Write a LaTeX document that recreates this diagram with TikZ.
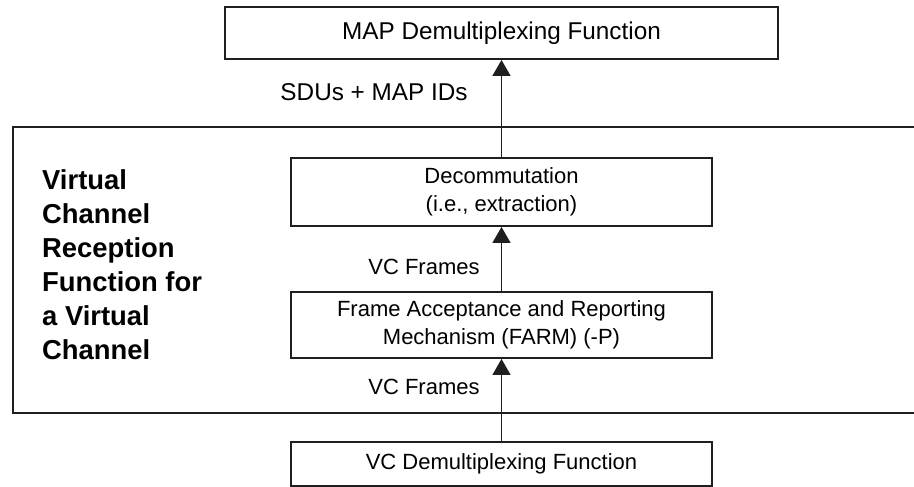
\documentclass[tikz,border=0pt]{standalone}
\usepackage{fontspec}
\setmainfont{Liberation Sans}
\usetikzlibrary{arrows.meta}
\begin{document}
\begin{tikzpicture}[x=1pt,y=-1pt,
  box/.style={draw=black!88, line width=1.9pt, minimum width=421pt, inner sep=0pt, align=center, font=\fontsize{22}{27.5}\selectfont},
  lbl/.style={inner sep=0pt, anchor=base, font=\fontsize{22}{27}\selectfont},
  arr/.style={line width=1.7pt, draw=black!88, -{Triangle[width=18pt,length=16pt]}}]
\useasboundingbox (0,0) rectangle (914,487);
% outer region (open on the right)
\draw[line width=2.2pt, draw=black!88] (914,127) -- (13,127) -- (13,413) -- (914,413);
% boxes
\node[box, minimum width=553pt, minimum height=52pt, font=\fontsize{24.3}{29}\selectfont] (map) at (501.5,33) {MAP Demultiplexing Function};
\node[box, minimum height=68pt] (decom) at (501.5,192) {Decommutation\\(i.e., extraction)};
\node[box, minimum height=66pt] (farm) at (501.5,325) {Frame Acceptance and Reporting\\Mechanism (FARM) (-P)};
\node[box, minimum height=44pt] (vcd) at (501.5,464) {VC Demultiplexing Function};
% labels
\node[lbl, font=\fontsize{24.3}{29}\selectfont] (sdu) at (374,101) {SDUs + MAP IDs};
\node[lbl] (vcf1) at (424,274) {VC Frames};
\node[lbl] (vcf2) at (424,394) {VC Frames};
\node[inner sep=0pt, anchor=north west, align=left, font=\fontsize{27.4}{34}\selectfont\bfseries] (title) at (42,169.5) {Virtual\\Channel\\Reception\\Function for\\a Virtual\\Channel};
% connectors
\draw[arr] (decom.north) -- (map.south);
\draw[arr] (farm.north) -- (decom.south);
\draw[arr] (vcd.north) -- (farm.south);
\end{tikzpicture}
\end{document}
